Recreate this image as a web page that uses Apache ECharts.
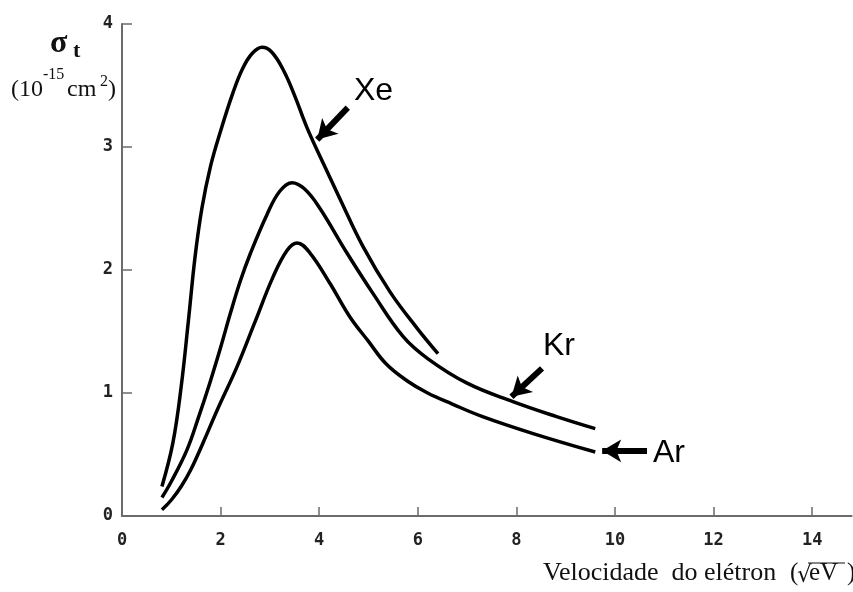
<!DOCTYPE html>
<html>
<head>
<meta charset="utf-8">
<script src="https://cdn.jsdelivr.net/npm/echarts@6.0.0/dist/echarts.min.js"></script>
<style>
html,body{margin:0;padding:0;background:#fff}
#chart{width:853px;height:592px}
</style>
</head>
<body>
<div id="chart"></div>
<script>
// curves: [velocity, sigma]
var xeData = [[0.81,0.24],[1.03,0.59],[1.20,1.05],[1.35,1.60],[1.48,2.10],[1.62,2.50],[1.80,2.85],[2.00,3.13],[2.25,3.44],[2.45,3.64],[2.64,3.76],[2.84,3.81],[3.04,3.77],[3.28,3.62],[3.50,3.42],[3.75,3.16],[4.08,2.87],[4.42,2.58],[4.89,2.19],[5.44,1.82],[5.98,1.53],[6.41,1.32]]
var krData = [[0.81,0.15],[1.00,0.28],[1.32,0.54],[1.55,0.80],[1.78,1.08],[2.00,1.37],[2.20,1.65],[2.40,1.91],[2.60,2.13],[2.94,2.45],[3.20,2.64],[3.45,2.71],[3.70,2.66],[4.00,2.51],[4.56,2.14],[5.09,1.81],[5.70,1.46],[6.20,1.28],[7.00,1.08],[7.93,0.93],[8.80,0.81],[9.60,0.71]]
var arData = [[0.81,0.05],[1.00,0.13],[1.20,0.24],[1.40,0.38],[1.65,0.60],[1.93,0.86],[2.33,1.21],[2.70,1.58],[3.06,1.94],[3.35,2.16],[3.55,2.22],[3.81,2.14],[4.22,1.89],[4.62,1.62],[5.00,1.42],[5.35,1.24],[5.78,1.10],[6.20,1.00],[6.70,0.91],[7.30,0.81],[8.34,0.67],[9.60,0.52]]
var xTicks = [0,2,4,6,8,10,12,14]
// arrows: [tail, head] in data units
var xeArrow = [[4.58,3.32],[3.96,3.06]]
var krArrow = [[8.52,1.20],[7.90,0.97]]
var arArrow = [[10.65,0.53],[9.74,0.53]]

var axisGray = '#6b6b6b'
var tickFont = {fontFamily:'DejaVu Sans Mono',fontWeight:'bold',fontSize:17,color:'#222'}

var arrowLine = function(a){
    return {
        silent:true,
        symbol:['none','arrow'],
        symbolSize:[17,19],
        label:{show:false},
        lineStyle:{color:'#000',width:6,type:'solid'},
        data:[[{coord:a[0]},{coord:a[1]}]]
    }
}

var curve = function(name,data,arrow){
    return {
        name:name,
        type:'line',
        data:data,
        smooth:0.4,
        symbol:'none',
        lineStyle:{color:'#000',width:3.5},
        markLine:arrowLine(arrow),
        animation:false
    }
}

var myChart = echarts.init(document.getElementById('chart'))
var option = {
    animation:false,
    grid:{left:122,top:24,right:1.4,bottom:76},
    xAxis:{
        type:'value',min:0,max:14.8,interval:2,
        splitLine:{show:false},
        axisLine:{lineStyle:{color:axisGray,width:2}},
        axisTick:{inside:true,length:9,customValues:xTicks,lineStyle:{color:axisGray,width:1.5}},
        axisLabel:Object.assign({margin:16,customValues:xTicks},tickFont)
    },
    yAxis:{
        type:'value',min:0,max:4,interval:1,
        splitLine:{show:false},
        axisLine:{lineStyle:{color:axisGray,width:2}},
        axisTick:{inside:true,length:10,lineStyle:{color:axisGray,width:1.5}},
        axisLabel:Object.assign({margin:9},tickFont)
    },
    series:[
        curve('Xe',xeData,xeArrow),
        curve('Kr',krData,krArrow),
        curve('Ar',arData,arArrow)
    ],
    graphic:[
        {type:'text',left:50,top:28,style:{text:'σ',font:'bold 32px "Liberation Serif"',fill:'#111'}},
        {type:'text',left:73,top:40,style:{text:'t',font:'bold 22px "Liberation Serif"',fill:'#111'}},
        {type:'text',left:11,top:78,style:{text:'(10',font:'24px "Liberation Serif"',fill:'#111'}},
        {type:'text',left:43,top:67,style:{text:'-15',font:'16px "Liberation Serif"',fill:'#111'}},
        {type:'text',left:67,top:78,style:{text:'cm',font:'24px "Liberation Serif"',fill:'#111'}},
        {type:'text',left:100,top:74,style:{text:'2',font:'16px "Liberation Serif"',fill:'#111'}},
        {type:'text',left:108,top:78,style:{text:')',font:'24px "Liberation Serif"',fill:'#111'}},
        {type:'text',x:354,y:91,style:{text:'Xe',font:'32px "Liberation Sans"',fill:'#000',verticalAlign:'middle'}},
        {type:'text',x:543,y:346,style:{text:'Kr',font:'32px "Liberation Sans"',fill:'#000',verticalAlign:'middle'}},
        {type:'text',x:653,y:453,style:{text:'Ar',font:'32px "Liberation Sans"',fill:'#000',verticalAlign:'middle'}},
        {type:'text',x:543,y:586,style:{text:'Velocidade  do elétron',font:'26px "Liberation Serif"',fill:'#111',verticalAlign:'bottom'}},
        {type:'text',x:790,y:586,style:{text:'(',font:'25px "Liberation Serif"',fill:'#111',verticalAlign:'bottom'}},
        {type:'text',x:797,y:588,style:{text:'√',font:'23px "DejaVu Serif"',fill:'#111',verticalAlign:'bottom'}},
        {type:'line',shape:{x1:808,y1:563,x2:845,y2:563},style:{stroke:'#111',lineWidth:1.2}},
        {type:'text',x:809,y:586,style:{text:'eV',font:'25px "Liberation Serif"',fill:'#111',verticalAlign:'bottom'}},
        {type:'text',x:847,y:586,style:{text:')',font:'25px "Liberation Serif"',fill:'#111',verticalAlign:'bottom'}}
    ]
}
option && myChart.setOption(option)
</script>
</body>
</html>
